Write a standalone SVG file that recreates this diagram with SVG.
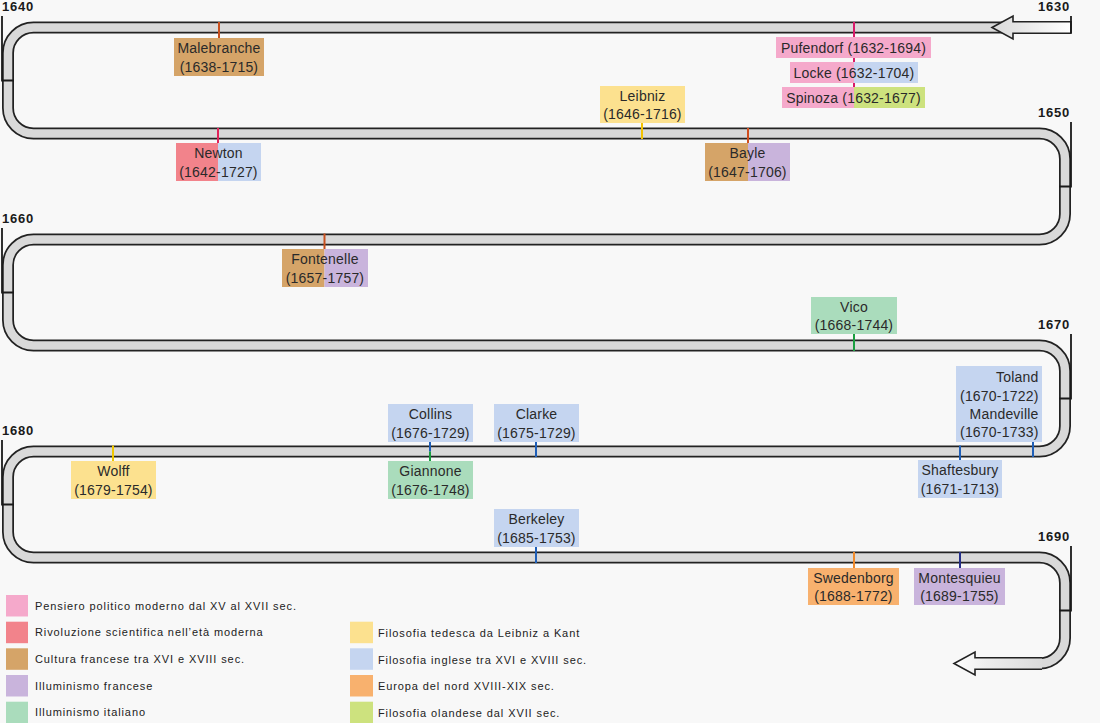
<svg xmlns="http://www.w3.org/2000/svg" width="1100" height="723" viewBox="0 0 1100 723">
<style>
.lbl{font-family:"Liberation Sans",Arial,sans-serif;font-size:14px;fill:#2a2a2a;letter-spacing:0.2px}
.yr{font-family:"Liberation Sans",Arial,sans-serif;font-size:13px;font-weight:bold;fill:#1a1a1a;letter-spacing:0.8px}
.lg{font-family:"Liberation Sans",Arial,sans-serif;font-size:11px;fill:#222;letter-spacing:0.9px}
.band1{fill:none;stroke:#222;stroke-width:12}
.band2{fill:none;stroke:#d9d9d9;stroke-width:8.5}
.yl{stroke:#1a1a1a;stroke-width:1.8;fill:none}
.tk{stroke-width:2;fill:none}
.pink{fill:#f5a9cb}.red{fill:#f2838b}.brown{fill:#d5a468}.purple{fill:#c9b4dc}.green{fill:#aadcbc}.yellow{fill:#fce18f}.blue{fill:#c5d5f0}.orange{fill:#f8b16e}.lgreen{fill:#cde27e}
</style>
<defs>
<linearGradient id="gTop" gradientUnits="userSpaceOnUse" x1="992" y1="0" x2="1071" y2="0">
<stop offset="0" stop-color="#dadada"/><stop offset="0.35" stop-color="#e6e6e6"/><stop offset="1" stop-color="#ffffff"/>
</linearGradient>
<linearGradient id="gBot" gradientUnits="userSpaceOnUse" x1="954" y1="0" x2="1045" y2="0">
<stop offset="0" stop-color="#ffffff"/><stop offset="0.35" stop-color="#eeeeee"/><stop offset="1" stop-color="#d9d9d9"/>
</linearGradient>
</defs>
<rect width="1100" height="723" fill="#f8f8f8"/>

<g id="track">
<path id="bandPath" class="band1" d="M1013,27.5 H33.5 A25.5,25.5 0 0 0 8,53 V108 A25.5,25.5 0 0 0 33.5,133.5 H1039.5 A25.5,25.5 0 0 1 1065,159 V214 A25.5,25.5 0 0 1 1039.5,239.5 H33.5 A25.5,25.5 0 0 0 8,265 V320 A25.5,25.5 0 0 0 33.5,345.5 H1039.5 A25.5,25.5 0 0 1 1065,371 V426 A25.5,25.5 0 0 1 1039.5,451.5 H33.5 A25.5,25.5 0 0 0 8,477 V532 A25.5,25.5 0 0 0 33.5,557.5 H1039.5 A25.5,25.5 0 0 1 1065,583 V638 A25.5,25.5 0 0 1 1039.5,663.5 H1030"/>
<path class="band2" d="M1013,27.5 H33.5 A25.5,25.5 0 0 0 8,53 V108 A25.5,25.5 0 0 0 33.5,133.5 H1039.5 A25.5,25.5 0 0 1 1065,159 V214 A25.5,25.5 0 0 1 1039.5,239.5 H33.5 A25.5,25.5 0 0 0 8,265 V320 A25.5,25.5 0 0 0 33.5,345.5 H1039.5 A25.5,25.5 0 0 1 1065,371 V426 A25.5,25.5 0 0 1 1039.5,451.5 H33.5 A25.5,25.5 0 0 0 8,477 V532 A25.5,25.5 0 0 0 33.5,557.5 H1039.5 A25.5,25.5 0 0 1 1065,583 V638 A25.5,25.5 0 0 1 1039.5,663.5 H1030"/>
<polygon points="992,27.5 1013,16 1013,21.75 1071,21.75 1071,33.25 1013,33.25 1013,39" fill="url(#gTop)" stroke="#222" stroke-width="1.6" stroke-linejoin="miter"/>
<polygon points="954,663.5 975,652 975,657.75 1042,657.75 1042,669.25 975,669.25 975,675" fill="url(#gBot)"/>
<path d="M1042,657.75 H975 V652 L954,663.5 L975,675 V669.25 H1042" fill="none" stroke="#222" stroke-width="1.6"/>
</g>

<g id="years">
<text class="yr" x="1070" y="11" text-anchor="end">1630</text>
<path class="yl" d="M1071,16 V33"/>
<text class="yr" x="2" y="11">1640</text>
<path class="yl" d="M2,16 V80.5 H14"/>
<text class="yr" x="1070" y="117" text-anchor="end">1650</text>
<path class="yl" d="M1071,122 V186.5 H1059"/>
<text class="yr" x="2" y="223">1660</text>
<path class="yl" d="M2,228 V292.5 H14"/>
<text class="yr" x="1070" y="329" text-anchor="end">1670</text>
<path class="yl" d="M1071,334 V398.5 H1059"/>
<text class="yr" x="2" y="435">1680</text>
<path class="yl" d="M2,440 V504.5 H14"/>
<text class="yr" x="1070" y="541" text-anchor="end">1690</text>
<path class="yl" d="M1071,546 V610.5 H1059"/>
</g>

<g id="connectors">
<path class="tk" stroke="#c8501e" d="M219,22 V38"/>
<path class="tk" stroke="#d81b6a" d="M854,22 V41 M854,57 V63 M854,82 V90"/>
<path class="tk" stroke="#e0245a" d="M218,128 V143"/>
<path class="tk" stroke="#f2c200" d="M642,123 V139"/>
<path class="tk" stroke="#d04e1e" d="M748,128 V143"/>
<path class="tk" stroke="#c8501e" d="M324.5,233.5 V249"/>
<path class="tk" stroke="#1a9e40" d="M854,334 V351"/>
<path class="tk" stroke="#1f5fb8" d="M1033,442 V457"/>
<path class="tk" stroke="#1f5fb8" d="M960,445.5 V460"/>
<path class="tk" stroke="#1f5fb8" d="M430,442 V451.5"/>
<path class="tk" stroke="#1a9e40" d="M430,451.5 V461"/>
<path class="tk" stroke="#1f5fb8" d="M536,442 V457"/>
<path class="tk" stroke="#f0c800" d="M113,445.5 V461"/>
<path class="tk" stroke="#1f5fb8" d="M536,547 V563"/>
<path class="tk" stroke="#f08a2a" d="M854,552 V568"/>
<path class="tk" stroke="#26308a" d="M960,552 V568"/>
</g>

<g id="malebranche"><rect class="brown" x="174" y="38" width="90" height="38"/><text class="lbl" x="219" y="53" text-anchor="middle">Malebranche</text><text class="lbl" x="219" y="71.5" text-anchor="middle">(1638-1715)</text></g>
<g id="pufendorf"><rect class="pink" x="776" y="37" width="155" height="21"/><text class="lbl" x="853.5" y="52.5" text-anchor="middle">Pufendorf (1632-1694)</text></g>
<g id="locke"><rect class="pink" x="790" y="62" width="64" height="21"/><rect class="blue" x="854" y="62" width="64" height="21"/><text class="lbl" x="854" y="77.5" text-anchor="middle">Locke (1632-1704)</text></g>
<g id="spinoza"><rect class="pink" x="782" y="87" width="72" height="21"/><rect class="lgreen" x="854" y="87" width="71" height="21"/><text class="lbl" x="853.5" y="102.5" text-anchor="middle">Spinoza (1632-1677)</text></g>
<g id="leibniz"><rect class="yellow" x="600" y="86" width="85" height="37"/><text class="lbl" x="642.5" y="100.5" text-anchor="middle">Leibniz</text><text class="lbl" x="642.5" y="119" text-anchor="middle">(1646-1716)</text></g>
<g id="newton"><rect class="red" x="176" y="143" width="42" height="38"/><rect class="blue" x="218" y="143" width="43" height="38"/><text class="lbl" x="218.5" y="158" text-anchor="middle">Newton</text><text class="lbl" x="218.5" y="176.5" text-anchor="middle">(1642-1727)</text></g>
<g id="bayle"><rect class="brown" x="705" y="143" width="43" height="38"/><rect class="purple" x="748" y="143" width="42" height="38"/><text class="lbl" x="747.5" y="158" text-anchor="middle">Bayle</text><text class="lbl" x="747.5" y="176.5" text-anchor="middle">(1647-1706)</text></g>
<g id="fontenelle"><rect class="brown" x="282" y="249" width="42.5" height="38"/><rect class="purple" x="324.5" y="249" width="43.5" height="38"/><text class="lbl" x="325" y="264" text-anchor="middle">Fontenelle</text><text class="lbl" x="325" y="282.5" text-anchor="middle">(1657-1757)</text></g>
<g id="vico"><rect class="green" x="811" y="297" width="86" height="37"/><text class="lbl" x="854" y="312" text-anchor="middle">Vico</text><text class="lbl" x="854" y="330" text-anchor="middle">(1668-1744)</text></g>
<g id="toland-mandeville"><rect class="blue" x="956" y="366" width="86" height="76"/><text class="lbl" x="1038.5" y="382" text-anchor="end">Toland</text><text class="lbl" x="1038.5" y="400.5" text-anchor="end">(1670-1722)</text><text class="lbl" x="1038.5" y="418.5" text-anchor="end">Mandeville</text><text class="lbl" x="1038.5" y="437" text-anchor="end">(1670-1733)</text></g>
<g id="collins"><rect class="blue" x="388" y="404" width="85" height="38"/><text class="lbl" x="430.5" y="419" text-anchor="middle">Collins</text><text class="lbl" x="430.5" y="437.5" text-anchor="middle">(1676-1729)</text></g>
<g id="clarke"><rect class="blue" x="494" y="404" width="85" height="38"/><text class="lbl" x="536.5" y="419" text-anchor="middle">Clarke</text><text class="lbl" x="536.5" y="437.5" text-anchor="middle">(1675-1729)</text></g>
<g id="wolff"><rect class="yellow" x="71" y="461" width="85" height="38"/><text class="lbl" x="113.5" y="476" text-anchor="middle">Wolff</text><text class="lbl" x="113.5" y="494.5" text-anchor="middle">(1679-1754)</text></g>
<g id="giannone"><rect class="green" x="388" y="461" width="85" height="38"/><text class="lbl" x="430.5" y="476" text-anchor="middle">Giannone</text><text class="lbl" x="430.5" y="494.5" text-anchor="middle">(1676-1748)</text></g>
<g id="shaftesbury"><rect class="blue" x="918" y="460" width="84" height="38"/><text class="lbl" x="960" y="475" text-anchor="middle">Shaftesbury</text><text class="lbl" x="960" y="493.5" text-anchor="middle">(1671-1713)</text></g>
<g id="berkeley"><rect class="blue" x="494" y="509" width="85" height="38"/><text class="lbl" x="536.5" y="524" text-anchor="middle">Berkeley</text><text class="lbl" x="536.5" y="542.5" text-anchor="middle">(1685-1753)</text></g>
<g id="swedenborg"><rect class="orange" x="808" y="568" width="91" height="37"/><text class="lbl" x="853.5" y="583" text-anchor="middle">Swedenborg</text><text class="lbl" x="853.5" y="601" text-anchor="middle">(1688-1772)</text></g>
<g id="montesquieu"><rect class="purple" x="914" y="568" width="91" height="37"/><text class="lbl" x="959.5" y="583" text-anchor="middle">Montesquieu</text><text class="lbl" x="959.5" y="601" text-anchor="middle">(1689-1755)</text></g>

<g id="legend">
<rect class="pink" x="6" y="595" width="22" height="21.5"/><text class="lg" x="35" y="609.5">Pensiero politico moderno dal XV al XVII sec.</text>
<rect class="red" x="6" y="621.7" width="22" height="21.5"/><text class="lg" x="35" y="636.2">Rivoluzione scientifica nell’età moderna</text>
<rect class="brown" x="6" y="648.3" width="22" height="21.5"/><text class="lg" x="35" y="662.8">Cultura francese tra XVI e XVIII sec.</text>
<rect class="purple" x="6" y="675" width="22" height="21.5"/><text class="lg" x="35" y="689.5">Illuminismo francese</text>
<rect class="green" x="6" y="701.7" width="22" height="21.5"/><text class="lg" x="35" y="716.2">Illuminismo italiano</text>
<rect class="yellow" x="350" y="621.7" width="23" height="21.5"/><text class="lg" x="378" y="636.5">Filosofia tedesca da Leibniz a Kant</text>
<rect class="blue" x="350" y="648.3" width="23" height="21.5"/><text class="lg" x="378" y="663.5">Filosofia inglese tra XVI e XVIII sec.</text>
<rect class="orange" x="350" y="675" width="23" height="21.5"/><text class="lg" x="378" y="690">Europa del nord XVIII-XIX sec.</text>
<rect class="lgreen" x="350" y="701.7" width="23" height="21.5"/><text class="lg" x="378" y="716.5">Filosofia olandese dal XVII sec.</text>
</g>
</svg>
